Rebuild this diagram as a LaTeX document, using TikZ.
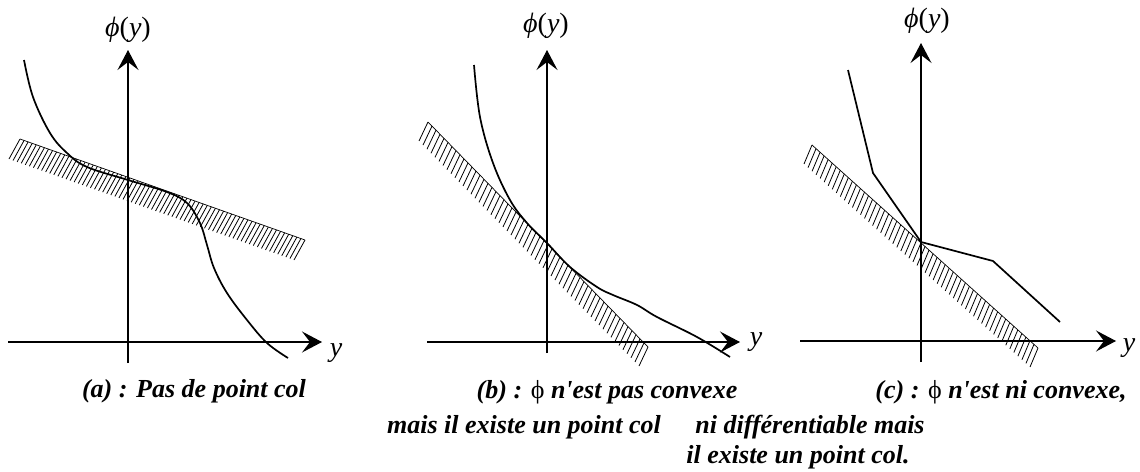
\documentclass[tikz,border=0pt]{standalone}
\usepackage{fontspec}
\setmainfont{Liberation Serif}
\usetikzlibrary{arrows.meta,calc}
\tikzset{
  axis/.style={line width=1.1pt,-{Stealth[length=20pt,width=21pt,inset=8pt]}},
  curve/.style={line width=1.7pt,line join=round},
  hatch/.style={line width=0.8pt},
  edgeline/.style={line width=0.7pt},
  lab/.style={inner sep=0pt,font=\fontsize{28}{32}\selectfont},
  captxt/.style={inner sep=0pt,anchor=base,font=\fontsize{26}{30}\selectfont\bfseries\itshape},
}
\newcommand\hatchband[5]{% P, Q, count, dx, dy
  \draw[edgeline] #1 -- #2;
  \foreach \i in {0,...,#3}{
    \pgfmathsetmacro\tt{\i/#3}
    \draw[hatch] ($#1!\tt!#2$) -- ++(#4,#5);
  }
}
\newcommand\qs{\textquotesingle}
\begin{document}
\begin{tikzpicture}[x=1pt,y=-1pt]
\useasboundingbox (0,0) rectangle (1140,471);
% ---------- panel (a)
\hatchband{(20,139)}{(305,240)}{70}{-11}{20}
\draw[axis] (128,363) -- (128,50);
\draw[axis] (8,342) -- (322,342);
\draw[curve] plot[smooth,tension=0.6] coordinates {(24,60) (33,97) (50,133) (67,153) (87,167) (128,180) (167,192) (187,203) (200,223) (207,245) (214,268) (227,293) (247,320) (267,343) (288,358)};
\node[lab] (pa) at (128,30) {\textit{ϕ}(\textit{y})};
\node[lab] (ya) at (336,353) {\textit{y}};
\node[captxt] (ca) at (194,397) {(a) : Pas de point col};
% ---------- panel (b)
\hatchband{(428,122)}{(648,347)}{55}{-9}{19}
\draw[axis] (547,353) -- (547,50);
\draw[axis] (427,342) -- (740,342);
\draw[curve] plot[smooth,tension=0.6] coordinates {(474,65) (480,117) (493,163) (510,200) (527,223) (547,243) (570,267) (597,287) (613,295) (637,305) (657,317) (697,337) (730,357)};
\node[lab] (pb) at (546,26) {\textit{ϕ}(\textit{y})};
\node[lab] (yb) at (756,342) {\textit{y}};
\node[captxt] (cb) at (607,398) {(b) : {\mdseries\upshape ϕ} n\qs est pas convexe};
\node[captxt] (cb2) at (524,433) {mais il existe un point col};
\node[captxt] (cb3) at (810,433) {ni différentiable mais};
% ---------- panel (c)
\hatchband{(812,145)}{(1038,348)}{56}{-8}{19}
\draw[axis] (921,362) -- (921,43);
\draw[axis] (800,341) -- (1116,341);
\draw[curve] (848,70) -- (873,173) -- (921,242) -- (993,261) -- (1060,322);
\node[lab] (pc) at (927,21) {\textit{ϕ}(\textit{y})};
\node[lab] (yc) at (1129,348) {\textit{y}};
\node[captxt] (cc) at (1001,398) {(c) : {\mdseries\upshape ϕ} n\qs est ni convexe,};
\node[captxt] (cc2) at (798,463) {il existe un point col.};
\end{tikzpicture}
\end{document}
